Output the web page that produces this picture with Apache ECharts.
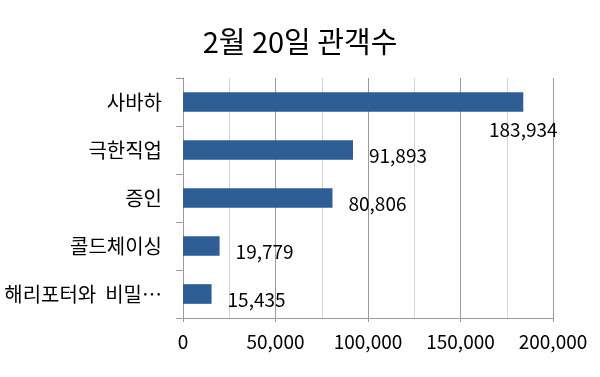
<!DOCTYPE html>
<html>
<head>
<meta charset="utf-8">
<script src="https://cdn.jsdelivr.net/npm/echarts@6/dist/echarts.min.js"></script>
<style>
html, body { margin: 0; padding: 0; background: #fff; }
#main { width: 600px; height: 377px; }
</style>
</head>
<body>
<div id="main"></div>
<script>
var myChart = echarts.init(document.getElementById('main'));

// 영화 이름과 관객수
var movies = ['사바하', '극한직업', '증인', '콜드체이싱', '해리포터와  비밀…'];
var audience = [183934, 91893, 80806, 19779, 15435];
var xTicks = [0, 50000, 100000, 150000, 200000];

var font = "'Noto Sans CJK KR', 'Noto Sans', sans-serif";

function fmt(v) {
    return v.toString().replace(/\B(?=(\d{3})+(?!\d))/g, ',');
}

var barData = [];
for (var i = 0; i < audience.length; ++i) {
    var item = { value: audience[i] };
    if (i == 0) {
        // 제일 긴 막대는 라벨을 아래에
        item.label = {
            position: ['100%', '100%'],
            align: 'center',
            verticalAlign: 'top',
            offset: [0, 8]
        };
    }
    barData.push(item);
}

myChart.setOption({
    animation: false,
    title: {
        text: '2월 20일 관객수',
        left: 'center',
        top: 22,
        textStyle: {
            fontFamily: font,
            fontSize: 29,
            fontWeight: 'normal',
            color: '#000'
        }
    },
    grid: {
        left: 183,
        right: 47,
        top: 78,
        bottom: 59
    },
    xAxis: {
        type: 'value',
        min: xTicks[0],
        max: xTicks[xTicks.length - 1],
        interval: 50000,
        minorTick: { show: true, splitNumber: 2, length: 0, lineStyle: { width: 0 } },
        minorSplitLine: { show: true, lineStyle: { color: '#d4d4d4', width: 1 } },
        splitLine: { show: true, lineStyle: { color: '#9a9a9a', width: 1 } },
        axisLine: { show: true, lineStyle: { color: '#9a9a9a' } },
        axisTick: { show: true, length: 4, inside: false, lineStyle: { color: '#9a9a9a' } },
        axisLabel: {
            margin: 14,
            fontFamily: font,
            fontSize: 19,
            color: '#000',
            formatter: function (v) { return fmt(v); }
        }
    },
    yAxis: {
        type: 'category',
        inverse: true,
        data: movies,
        axisLine: { show: true, lineStyle: { color: '#9a9a9a' } },
        axisTick: { show: true, length: 7, lineStyle: { color: '#9a9a9a' } },
        axisLabel: {
            margin: 21,
            fontFamily: font,
            fontSize: 20,
            color: '#000'
        }
    },
    series: [{
        type: 'bar',
        data: barData,
        barWidth: '41%',
        itemStyle: { color: '#2f5d96' },
        label: {
            show: true,
            position: 'right',
            distance: 16,
            offset: [0, 6],
            fontFamily: font,
            fontSize: 19,
            color: '#000',
            formatter: function (p) { return fmt(p.value); }
        }
    }]
});
</script>
</body>
</html>
